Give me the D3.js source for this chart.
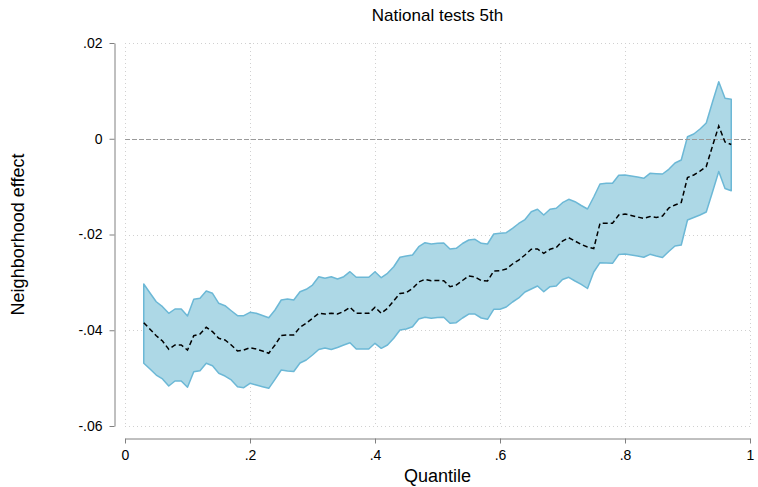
<!DOCTYPE html>
<html><head><meta charset="utf-8">
<script src="https://cdn.jsdelivr.net/npm/d3@7"></script>
<style>body{margin:0;background:#fff;} text{font-family:"Liberation Sans",Arial,sans-serif;}</style>
</head><body>
<svg id="c" width="758" height="487"></svg>
<script>
const quantiles = d3.range(3, 98).map(i => i / 100);
const estimate = [-0.03842,-0.03978,-0.04114,-0.04225,-0.04398,-0.04308,-0.04308,-0.04413,-0.04114,-0.04078,
-0.03938,-0.04030,-0.04168,-0.04204,-0.04308,-0.04433,-0.04413,-0.04364,-0.04392,-0.04433,
-0.04481,-0.04308,-0.04110,-0.04099,-0.04099,-0.03938,-0.03855,-0.03750,-0.03646,-0.03661,
-0.03646,-0.03661,-0.03608,-0.03521,-0.03646,-0.03646,-0.03646,-0.03521,-0.03646,-0.03542,
-0.03383,-0.03232,-0.03216,-0.03128,-0.02992,-0.02936,-0.02965,-0.02961,-0.02965,-0.03090,
-0.03055,-0.02961,-0.02867,-0.02888,-0.02961,-0.02971,-0.02762,-0.02756,-0.02721,-0.02616,
-0.02533,-0.02428,-0.02309,-0.02303,-0.02393,-0.02309,-0.02272,-0.02136,-0.02067,-0.02136,
-0.02209,-0.02261,-0.02292,-0.01766,-0.01766,-0.01766,-0.01593,-0.01572,-0.01603,-0.01634,
-0.01662,-0.01624,-0.01645,-0.01614,-0.01446,-0.01384,-0.01332,-0.00809,-0.00757,-0.00674,
-0.00580,-0.00151,0.00266,-0.00068,-0.00120];
const upper = [-0.03034,-0.03222,-0.03404,-0.03508,-0.03646,-0.03556,-0.03556,-0.03702,-0.03354,-0.03333,
-0.03180,-0.03228,-0.03437,-0.03487,-0.03592,-0.03696,-0.03696,-0.03625,-0.03646,-0.03692,
-0.03738,-0.03577,-0.03368,-0.03347,-0.03368,-0.03195,-0.03145,-0.03055,-0.02881,-0.02915,
-0.02881,-0.02930,-0.02881,-0.02777,-0.02894,-0.02894,-0.02894,-0.02777,-0.02902,-0.02810,
-0.02673,-0.02476,-0.02449,-0.02428,-0.02255,-0.02171,-0.02198,-0.02184,-0.02178,-0.02303,
-0.02288,-0.02188,-0.02115,-0.02100,-0.02184,-0.02198,-0.01990,-0.01975,-0.01962,-0.01871,
-0.01770,-0.01687,-0.01524,-0.01474,-0.01593,-0.01474,-0.01453,-0.01336,-0.01265,-0.01315,
-0.01394,-0.01467,-0.01217,-0.00945,-0.00931,-0.00931,-0.00763,-0.00757,-0.00778,-0.00799,
-0.00826,-0.00722,-0.00730,-0.00736,-0.00638,-0.00507,-0.00444,0.00043,0.00099,0.00204,
0.00329,0.00768,0.01192,0.00845,0.00824];
const lower = [-0.04690,-0.04809,-0.04935,-0.05018,-0.05165,-0.05060,-0.05060,-0.05192,-0.04866,-0.04845,
-0.04690,-0.04740,-0.04899,-0.04956,-0.05039,-0.05179,-0.05200,-0.05108,-0.05144,-0.05179,
-0.05213,-0.05025,-0.04830,-0.04851,-0.04862,-0.04684,-0.04621,-0.04517,-0.04402,-0.04371,
-0.04402,-0.04360,-0.04308,-0.04260,-0.04392,-0.04392,-0.04392,-0.04273,-0.04377,-0.04308,
-0.04168,-0.03995,-0.03974,-0.03926,-0.03765,-0.03730,-0.03750,-0.03734,-0.03730,-0.03855,
-0.03842,-0.03744,-0.03661,-0.03661,-0.03744,-0.03771,-0.03562,-0.03562,-0.03514,-0.03410,
-0.03326,-0.03201,-0.03138,-0.03076,-0.03195,-0.03090,-0.03076,-0.02940,-0.02894,-0.02971,
-0.03040,-0.03128,-0.02783,-0.02589,-0.02595,-0.02602,-0.02418,-0.02407,-0.02428,-0.02449,
-0.02476,-0.02414,-0.02449,-0.02480,-0.02355,-0.02240,-0.02219,-0.01697,-0.01645,-0.01593,
-0.01530,-0.01112,-0.00684,-0.01039,-0.01085];
const xTicks = [0, 0.2, 0.4, 0.6, 0.8, 1];
const xTickLabels = ["0", ".2", ".4", ".6", ".8", "1"];
const yTicks = [0.02, 0, -0.02, -0.04, -0.06];
const yTickLabels = [".02", "0", "-.02", "-.04", "-.06"];
const title = "National tests 5th";
const xTitle = "Quantile";
const yTitle = "Neighborhood effect";

const svg = d3.select("#c");
const x = d3.scaleLinear().domain([0, 1]).range([125, 750]);
const y = d3.scaleLinear().domain([-0.06, 0.02]).range([426, 43]);
const data = quantiles.map((q, i) => ({q, e: estimate[i], lo: lower[i], hi: upper[i]}));

// grid
const grid = svg.append("g").attr("stroke", "#d0d0d0").attr("stroke-width", 1).attr("stroke-dasharray", "1,3");
grid.selectAll(".gx").data(xTicks).join("line")
  .attr("x1", d => x(d) + 0.5).attr("x2", d => x(d) + 0.5).attr("y1", y(0.02)).attr("y2", y(-0.06));
grid.selectAll(".gy").data(yTicks.filter(d => d !== 0)).join("line")
  .attr("y1", d => Math.round(y(d)) + 0.5).attr("y2", d => Math.round(y(d)) + 0.5).attr("x1", x(0)).attr("x2", x(1));

// band
svg.append("path").datum(data)
  .attr("d", d3.area().x(d => x(d.q)).y0(d => y(d.lo)).y1(d => y(d.hi)))
  .attr("fill", "#add8e6").attr("stroke", "#6cb8d6").attr("stroke-width", 1.5).attr("stroke-linejoin", "round");

// zero line
svg.append("line").attr("x1", x(0)).attr("x2", x(1)).attr("y1", Math.round(y(0)) + 0.5).attr("y2", Math.round(y(0)) + 0.5)
  .attr("stroke", "#9a9a9a").attr("stroke-width", 1).attr("stroke-dasharray", "5,2");

// estimate
svg.append("path").datum(data)
  .attr("d", d3.line().x(d => x(d.q)).y(d => y(d.e)))
  .attr("fill", "none").attr("stroke", "#000").attr("stroke-width", 1.5).attr("stroke-dasharray", "5,3");

// y axis
const yAxis = d3.axisLeft(y).tickValues(yTicks).tickFormat((d, i) => yTickLabels[i]).tickSize(5).tickPadding(7).tickSizeOuter(0);
const gy = svg.append("g").attr("transform", "translate(114.5,0)").call(yAxis);
gy.select(".domain").attr("stroke", "#808080");
gy.selectAll(".tick line").attr("stroke", "#808080");
gy.selectAll(".tick text").attr("font-size", 14).attr("fill", "#000").style("font-family", "Liberation Sans, Arial, sans-serif");

// x axis
const xAxis = d3.axisBottom(x).tickValues(xTicks).tickFormat((d, i) => xTickLabels[i]).tickSize(5).tickPadding(7).tickSizeOuter(0);
const gx = svg.append("g").attr("transform", "translate(0,438.5)").call(xAxis);
gx.select(".domain").attr("stroke", "#808080");
gx.selectAll(".tick line").attr("stroke", "#808080");
gx.selectAll(".tick text").attr("font-size", 14).attr("fill", "#000").style("font-family", "Liberation Sans, Arial, sans-serif");

svg.append("text").attr("x", 437.5).attr("y", 21).attr("text-anchor", "middle").attr("font-size", 17).text(title);
svg.append("text").attr("x", 437.5).attr("y", 482).attr("text-anchor", "middle").attr("font-size", 18).text(xTitle);
svg.append("text").attr("transform", "translate(24,234.5) rotate(-90)").attr("text-anchor", "middle").attr("font-size", 18).text(yTitle);
</script>
</body></html>
